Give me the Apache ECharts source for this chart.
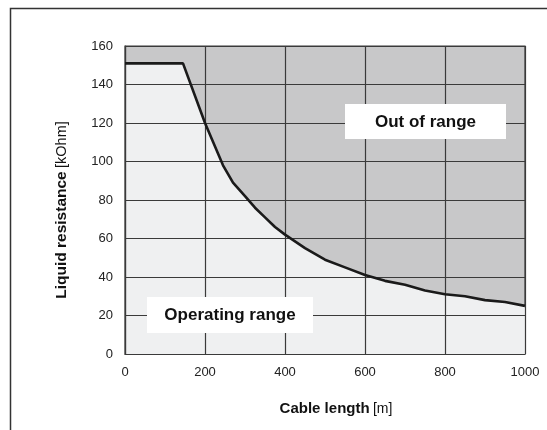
<!DOCTYPE html>
<html>
<head>
<meta charset="utf-8">
<script src="https://cdn.jsdelivr.net/npm/echarts@6/dist/echarts.min.js"></script>
<style>html,body{margin:0;padding:0;background:#fff}#c{width:547px;height:430px}</style>
</head>
<body>
<div id="c"></div>
<script>
var cableLength = [0, 145, 200, 245, 270, 300, 325, 350, 375, 400, 450, 500, 550, 600, 650, 700, 750, 800, 850, 900, 950, 1000];
var resistance  = [151, 151, 120, 98, 89, 82, 76, 71, 66, 62, 55, 49, 45, 41, 38, 36, 33, 31, 30, 28, 27, 25];
var xTicks = [0, 200, 400, 600, 800, 1000];
var yTicks = [0, 20, 40, 60, 80, 100, 120, 140, 160];
var xTitle = 'Cable length';
var xUnit = '[m]';
var yTitle = 'Liquid resistance';
var yUnit = '[kOhm]';
var labelOut = 'Out of range';
var labelOp = 'Operating range';

var pts = cableLength.map(function (x, i) { return [x, resistance[i]]; });
var FONT = '"Liberation Sans", Arial, Helvetica, sans-serif';
var chart = echarts.init(document.getElementById('c'));
var axisCommon = {
  type: 'value', z: 3,
  axisLine: { show: true, lineStyle: { color: '#3a3a3a', width: 1.2 } },
  axisTick: { show: false },
  splitLine: { show: true, lineStyle: { color: '#3a3a3a', width: 1.2 } },
  axisLabel: { color: '#222', fontFamily: FONT, fontSize: 13, margin: 12, formatter: function (v) { return String(v); } }
};
chart.setOption({
  animation: false,
  grid: { left: 125, right: 22, top: 46, bottom: 76, show: true, backgroundColor: '#c8c8c9', borderColor: '#3a3a3a', borderWidth: 1.2 },
  xAxis: Object.assign({}, axisCommon, { min: xTicks[0], max: xTicks[xTicks.length - 1], interval: xTicks[1] - xTicks[0] }),
  yAxis: Object.assign({}, axisCommon, { min: yTicks[0], max: yTicks[yTicks.length - 1], interval: yTicks[1] - yTicks[0] }),
  series: [
    { type: 'line', data: pts, z: 1, symbol: 'none', lineStyle: { width: 0 }, areaStyle: { color: '#eff0f1', opacity: 1 } },
    { type: 'line', data: pts, z: 5, symbol: 'none', lineStyle: { color: '#1a1a1a', width: 2.6 } }
  ],
  graphic: [
    { type: 'polyline', z: 10, shape: { points: [[10.5, 430], [10.5, 8.5], [547, 8.5]] }, style: { stroke: '#333', lineWidth: 1.5, fill: null } },
    { type: 'rect', z: 10, shape: { x: 345, y: 104, width: 161, height: 35 }, style: { fill: '#fff' } },
    { type: 'text', z: 11, x: 425.5, y: 122, style: { text: labelOut, font: 'bold 17px ' + FONT, fill: '#111', align: 'center', verticalAlign: 'middle' } },
    { type: 'rect', z: 10, shape: { x: 147, y: 297, width: 166, height: 36 }, style: { fill: '#fff' } },
    { type: 'text', z: 11, x: 230, y: 315, style: { text: labelOp, font: 'bold 17px ' + FONT, fill: '#111', align: 'center', verticalAlign: 'middle' } },
    { type: 'text', z: 11, x: 336, y: 409, style: { text: '{b|' + xTitle + '} {n|' + xUnit + '}', align: 'center', verticalAlign: 'middle',
        rich: { b: { fontFamily: FONT, fontWeight: 'bold', fontSize: 15, fill: '#111' }, n: { fontFamily: FONT, fontSize: 14, fill: '#111' } } } },
    { type: 'text', z: 11, x: 62, y: 210, rotation: Math.PI / 2, style: { text: '{b|' + yTitle + '} {n|' + yUnit + '}', align: 'center', verticalAlign: 'middle',
        rich: { b: { fontFamily: FONT, fontWeight: 'bold', fontSize: 15.5, fill: '#111' }, n: { fontFamily: FONT, fontSize: 14.5, fill: '#111' } } } }
  ]
});
</script>
</body>
</html>
